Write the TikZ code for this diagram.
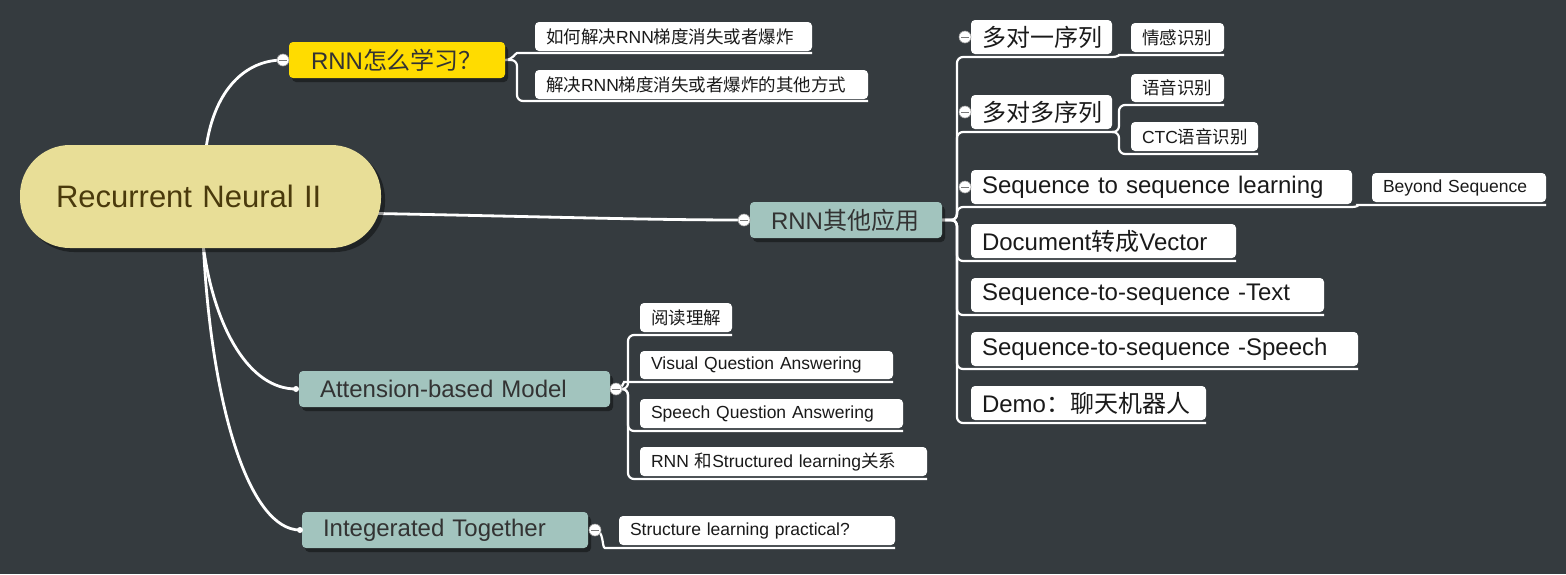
\documentclass[tikz,border=0pt]{standalone}
\usepackage{fontspec}
\setmainfont{Liberation Sans}
\newfontfamily\cjk{Noto Sans CJK SC}
\usetikzlibrary{shadows}
\pgfdeclarelayer{background}
\pgfsetlayers{background,main}
\definecolor{bgdark}{RGB}{53,59,63}
\definecolor{rootfill}{RGB}{232,222,151}
\definecolor{roottext}{RGB}{74,58,12}
\definecolor{learnfill}{RGB}{255,220,0}
\definecolor{topicfill}{RGB}{162,196,190}
\definecolor{topictext}{RGB}{51,51,51}
\definecolor{leaftext}{RGB}{26,26,26}
\definecolor{knobedge}{RGB}{160,160,160}
\definecolor{knobbar}{RGB}{120,120,120}

\begin{document}
\begin{tikzpicture}[x=1pt,y=-1pt,
  nowrap/.style={execute at begin node={\hbox\bgroup}, execute at end node={\egroup}},
  rootbox/.style={fill=rootfill, text=roottext, rounded corners=50pt, anchor=north west, inner xsep=36pt, inner ysep=0pt, outer sep=0pt, nowrap, font=\fontsize{31}{31}\selectfont, drop shadow={shadow xshift=4pt, shadow yshift=-4pt, fill=black, opacity=0.4}},
  topic/.style={fill=topicfill, text=topictext, rounded corners=4pt, anchor=north west, inner xsep=21pt, inner ysep=0pt, outer sep=0pt, minimum height=36pt, nowrap, font=\fontsize{24}{24}\selectfont, drop shadow={shadow xshift=3pt, shadow yshift=-4pt, fill=black, opacity=0.4}},
  leaf/.style={fill=white, text=leaftext, rounded corners=4pt, anchor=north west, inner xsep=11pt, inner ysep=0pt, outer sep=0pt, nowrap},
  big/.style={minimum height=34pt, font=\fontsize{24}{24}\selectfont},
  small/.style={minimum height=29pt, font=\fontsize{17.5}{17.5}\selectfont},
  branch/.style={draw=white, line width=2.8pt},
  twig/.style={draw=white, line width=2.2pt, rounded corners=6pt},
  knob/.style={circle, fill=white, draw=knobedge, line width=0.6pt, minimum size=12pt, inner sep=0pt, path picture={\draw[draw=knobbar, line width=1pt] ([xshift=2pt]path picture bounding box.west) -- ([xshift=-2pt]path picture bounding box.east);}},
  dot/.style={circle, fill=white, minimum size=6pt, inner sep=0pt}
]
% central topic
\node[rootbox, text width=289pt, minimum height=103pt] (root) at (20,145) {Recurrent Neural II};

% main topics
\node[topic, fill=learnfill, inner xsep=22pt, text width=172pt] (learn) at (289,42) {RNN{\cjk 怎么学习？}};
\node[topic, text width=150pt] (app) at (750,202) {RNN{\cjk 其他应用}};
\node[topic, text width=269pt] (attn) at (299,371) {Attension-based Model};
\node[topic, text width=244pt] (integ) at (302,512) {Integerated Together};

% RNN怎么学习 children
\node[leaf, small, text width=255pt] (vanish) at (535,22) {{\cjk 如何解决}RNN{\cjk 梯度消失或者爆炸}};
\node[leaf, small, text width=311pt] (other) at (535,70) {{\cjk 解决}RNN{\cjk 梯度消失或者爆炸的其他方式}};

% RNN其他应用 children
\node[leaf, big, text width=119pt] (one2one) at (971,20) {{\cjk 多对一序列}};
\node[leaf, big, text width=119pt] (many) at (971,95) {{\cjk 多对多序列}};
\node[leaf, big, text width=359pt] (seqlearn) at (971,170) {Sequence to sequence learning};
\node[leaf, big, text width=243pt] (doc2vec) at (971,224) {Document{\cjk 转成}Vector};
\node[leaf, big, text width=331pt] (s2stext) at (971,278) {Sequence-to-sequence -Text};
\node[leaf, big, text width=365pt] (s2sspeech) at (971,332) {Sequence-to-sequence -Speech};
\node[leaf, big, text width=213pt] (demo) at (971,386) {Demo{\cjk ：聊天机器人}};

% grandchildren
\node[leaf, small, text width=71pt] (emotion) at (1131,23) {{\cjk 情感识别}};
\node[leaf, small, text width=71pt, minimum height=28pt] (speech) at (1131,74) {{\cjk 语音识别}};
\node[leaf, small, text width=105pt] (ctc) at (1131,122) {CTC{\cjk 语音识别}};
\node[leaf, small, text width=152pt] (beyond) at (1372,173) {Beyond Sequence};

% Attension-based Model children
\node[leaf, small, text width=70pt] (reading) at (640,303) {{\cjk 阅读理解}};
\node[leaf, small, text width=231pt, minimum height=28pt] (vqa) at (640,351) {Visual Question Answering};
\node[leaf, small, text width=241pt] (sqa) at (640,399) {Speech Question Answering};
\node[leaf, small, text width=265pt] (structrel) at (640,447) {RNN {\cjk 和}Structured learning{\cjk 关系}};

% Integerated Together child
\node[leaf, small, text width=254pt] (practical) at (619,516) {Structure learning practical?};

% knobs
\node[knob] (learnknob) at ([xshift=-6pt]learn.west) {};
\node[knob] (appknob) at ([xshift=-6pt]app.west) {};
\node[dot] (attndot) at ([xshift=-3pt]attn.west) {};
\node[knob] (attnknob) at ([xshift=6pt]attn.east) {};
\node[dot] (integdot) at ([xshift=-2pt]integ.west) {};
\node[knob] (integknob) at ([xshift=7pt]integ.east) {};
\node[knob] (one2oneknob) at ([xshift=-6pt]one2one.west) {};
\node[knob] (manyknob) at ([xshift=-6pt]many.west) {};
\node[knob] (seqlearnknob) at ([xshift=-6pt]seqlearn.west) {};

\begin{pgfonlayer}{background}
\fill[bgdark] (0,0) rectangle (1566,574);
% main branches
\draw[branch] ([xshift=6pt]root.north) .. controls (215,90) and (245,60) .. (learnknob.center);
\draw[branch] ([xshift=-4pt,yshift=-17pt]root.east) .. controls (560,217) and (650,220) .. (appknob.center);
\draw[branch] ([xshift=3pt]root.south) .. controls (215,330) and (250,389) .. (attndot.center);
\draw[branch] ([xshift=3pt]root.south) .. controls (212,410) and (250,530) .. (integdot.center);
% RNN怎么学习
\draw[twig] (learn.east) to[out=0,in=180] ([xshift=-12pt,yshift=-2pt]vanish.south west) -- ([yshift=-2pt]vanish.south east);
\draw[twig] (learn.east) -- ++(12,0) |- ([yshift=-2pt]other.south east);
% RNN其他应用
\draw[twig] (app.east) -- ++(15,0) |- ([yshift=-3pt]one2one.south east);
\draw[twig] (app.east) -- ++(15,0) |- ([yshift=-3pt]many.south east);
\draw[twig] (app.east) -- ++(15,0) |- ([yshift=-3pt]seqlearn.south east);
\draw[twig] (app.east) -- ++(15,0) |- ([yshift=-3pt]doc2vec.south east);
\draw[twig] (app.east) -- ++(15,0) |- ([yshift=-3pt]s2stext.south east);
\draw[twig] (app.east) -- ++(15,0) |- ([yshift=-3pt]s2sspeech.south east);
\draw[twig] (app.east) -- ++(15,0) |- ([yshift=-3pt]demo.south east);
\draw[twig] ([yshift=-3pt]one2one.south east) to[out=0,in=180] ([xshift=-6pt,yshift=-3pt]emotion.south west) -- ([yshift=-3pt]emotion.south east);
\draw[twig] ([yshift=-3pt]many.south east) -- ++(7,0) |- ([yshift=-3pt]speech.south east);
\draw[twig] ([yshift=-3pt]many.south east) -- ++(7,0) |- ([yshift=-3pt]ctc.south east);
\draw[twig] ([yshift=-3pt]seqlearn.south east) to[out=0,in=180] ([xshift=-8pt,yshift=-3pt]beyond.south west) -- ([yshift=-3pt]beyond.south east);
% Attension-based Model
\draw[twig] (attnknob.center) -- ++(12,0) |- ([yshift=-3pt]reading.south east);
\draw[twig] (attnknob.center) to[out=0,in=180] ([xshift=-10pt,yshift=-3pt]vqa.south west) -- ([yshift=-3pt]vqa.south east);
\draw[twig] (attnknob.center) -- ++(12,0) |- ([yshift=-3pt]sqa.south east);
\draw[twig] (attnknob.center) -- ++(12,0) |- ([yshift=-3pt]structrel.south east);
% Integerated Together
\draw[twig] (integknob.center) to[out=0,in=180] ([xshift=-8pt,yshift=-3pt]practical.south west) -- ([yshift=-3pt]practical.south east);
\end{pgfonlayer}
\end{tikzpicture}
\end{document}
